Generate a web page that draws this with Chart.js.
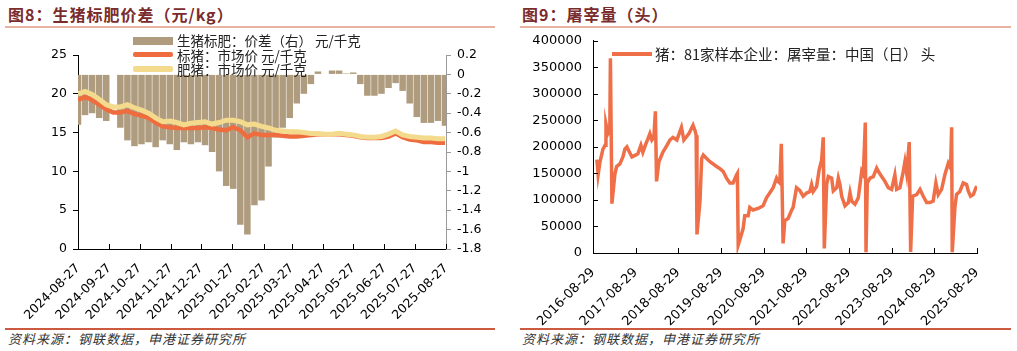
<!DOCTYPE html>
<html lang="zh">
<head>
<meta charset="UTF-8">
<title>生猪标肥价差 / 屠宰量</title>
<script src="https://cdn.jsdelivr.net/npm/chart.js"></script>
<style>
    body {
        margin: 0;
        width: 1017px;
        height: 351px;
        position: relative;
        background: #fff;
        overflow: hidden;
        font-family: "Noto Sans CJK SC", sans-serif;
    }
    .title {
        position: absolute;
        top: 4px;
        font-size: 16px;
        line-height: 20px;
        font-weight: bold;
        letter-spacing: 1px;
        color: #7a2c2c;
        white-space: nowrap;
    }
    .rule-top {
        position: absolute;
        top: 26px;
        height: 2px;
        background: #e8b3a0;
    }
    .rule-bottom {
        position: absolute;
        top: 328px;
        height: 2px;
        background: #cc5a40;
    }
    .source {
        position: absolute;
        top: 331px;
        font-size: 13px;
        line-height: 16px;
        font-style: italic;
        letter-spacing: 1px;
        color: #333;
        white-space: nowrap;
    }
    .box {
        position: absolute;
        top: 30px;
        height: 298px;
    }
    .leg {
        position: absolute;
        font-size: 13.5px;
        line-height: 16px;
        color: #222;
        white-space: pre;
    }
    .sw {
        position: absolute;
    }
</style>
</head>
<body>

<!-- 图8 -->
<div class="title" style="left:8px">图8：生猪标肥价差（元/kg）</div>
<div class="rule-top" style="left:5px;width:490px"></div>
<div class="box" style="left:0;width:500px"><canvas id="spreadChart"></canvas></div>
<div class="sw" style="left:133px;top:37px;width:40px;height:8px;background:#af9b7d"></div>
<div class="leg" style="left:177px;top:32px">生猪标肥：价差（右） 元/千克</div>
<div class="sw" style="left:133px;top:52px;width:40px;height:5px;background:#ef6c3e;border-radius:2px"></div>
<div class="leg" style="left:177px;top:47px">标猪：市场价 元/千克</div>
<div class="sw" style="left:133px;top:66px;width:40px;height:6px;background:#f3da8c;border-radius:2px"></div>
<div class="leg" style="left:177px;top:61px">肥猪：市场价 元/千克</div>
<div class="rule-bottom" style="left:5px;width:490px"></div>
<div class="source" style="left:8px">资料来源：钢联数据，申港证券研究所</div>

<!-- 图9 -->
<div class="title" style="left:522px">图9：屠宰量（头）</div>
<div class="rule-top" style="left:520px;width:491px"></div>
<div class="box" style="left:510px;width:507px"><canvas id="slaughterChart"></canvas></div>
<div class="sw" style="left:612px;top:52px;width:40px;height:4px;background:#ee6f48"></div>
<div class="leg" style="left:655px;top:46px;font-size:14.5px">猪：81家样本企业：屠宰量：中国（日） 头</div>
<div class="rule-bottom" style="left:520px;width:491px"></div>
<div class="source" style="left:522px">资料来源：钢联数据，申港证券研究所</div>

<script>
// ---- 图8 data: weekly samples from 2024-08-27 ----
const spreadStart = '2024-08-27';
const spreadTickLabels = ['2024-08-27', '2024-09-27', '2024-10-27', '2024-11-27', '2024-12-27',
    '2025-01-27', '2025-02-27', '2025-03-27', '2025-04-27', '2025-05-27', '2025-06-27',
    '2025-07-27', '2025-08-27'];
// 标猪 market price, 元/千克
const stdPrice = [19.2, 19.6, 19.2, 18.6, 18.0, 17.6, 17.6, 17.8, 17.4, 17.2, 16.9, 16.3, 15.8,
    15.7, 15.6, 15.6, 15.6, 15.6, 15.7, 15.6, 15.4, 15.3, 15.7, 15.3, 14.4, 14.9, 14.7, 14.7,
    14.7, 14.6, 14.5, 14.5, 14.6, 14.7, 14.8, 14.8, 14.8, 14.8, 14.7, 14.6, 14.4, 14.3, 14.3,
    14.3, 14.5, 14.9, 14.4, 14.1, 14.0, 13.8, 13.8, 13.7, 13.7];
// 肥猪 market price, 元/千克
const fatPrice = [20.0, 20.3, 19.9, 19.3, 18.6, 18.3, 18.3, 18.6, 18.2, 17.9, 17.5, 16.9, 16.4,
    16.5, 16.3, 16.0, 16.2, 16.3, 16.4, 16.1, 16.3, 16.6, 16.6, 16.4, 16.0, 16.1, 15.8, 15.6,
    15.3, 15.2, 15.1, 15.1, 15.0, 14.9, 14.9, 14.8, 14.8, 14.9, 14.8, 14.7, 14.5, 14.4, 14.4,
    14.5, 14.8, 15.2, 14.7, 14.5, 14.4, 14.3, 14.3, 14.2, 14.2];
// 价差 (right axis)
const spreadValues = [-0.52, -0.42, -0.4, -0.45, -0.48, null, -0.55, -0.68, -0.74, -0.72, -0.7,
    -0.75, -0.68, -0.72, -0.78, -0.7, -0.72, -0.7, -0.73, -0.8, -1.0, -1.15, -1.18, -1.55, -1.65,
    -1.35, -1.3, -0.95, -0.65, -0.55, -0.45, -0.3, -0.2, -0.1, 0.03, 0, 0.04, 0.04, 0.01, 0.02,
    -0.1, -0.22, -0.22, -0.2, -0.14, -0.09, -0.17, -0.3, -0.44, -0.5, -0.5, -0.48, -0.53];

// ---- 图9 data ----
const slaughterStart = '2016-08-29';
const slaughterTickLabels = ['2016-08-29', '2017-08-29', '2018-08-29', '2019-08-29', '2020-08-29',
    '2021-08-29', '2022-08-29', '2023-08-29', '2024-08-29', '2025-08-29'];
const slaughterDates = ['2016-10-01', '2016-10-08', '2016-10-12', '2016-10-28', '2016-11-22',
    '2016-12-10', '2016-12-18', '2017-01-04', '2017-01-20', '2017-01-25', '2017-02-07',
    '2017-03-04', '2017-03-19', '2017-04-16', '2017-05-12', '2017-05-29', '2017-06-15',
    '2017-06-28', '2017-07-28', '2017-08-23', '2017-09-17', '2017-10-13', '2017-10-30',
    '2017-11-25', '2017-12-12', '2017-12-29', '2018-01-15', '2018-02-01', '2018-02-14',
    '2018-02-24', '2018-03-16', '2018-04-19', '2018-05-24', '2018-06-18', '2018-07-14',
    '2018-08-17', '2018-09-25', '2018-10-16', '2018-11-28', '2019-01-02', '2019-01-19',
    '2019-01-29', '2019-02-05', '2019-03-03', '2019-03-17', '2019-03-31', '2019-04-29',
    '2019-05-27', '2019-07-23', '2019-08-20', '2019-09-17', '2019-10-16', '2019-11-13',
    '2019-12-11', '2020-01-09', '2020-01-17', '2020-01-24', '2020-02-06', '2020-03-06',
    '2020-03-20', '2020-04-18', '2020-05-02', '2020-05-30', '2020-07-12', '2020-08-24',
    '2020-09-22', '2020-10-21', '2020-11-18', '2020-12-17', '2020-12-31', '2021-01-14',
    '2021-01-27', '2021-02-11', '2021-02-26', '2021-03-26', '2021-04-24', '2021-05-08',
    '2021-06-06', '2021-07-04', '2021-08-02', '2021-08-31', '2021-09-28', '2021-10-13',
    '2021-10-27', '2021-11-25', '2021-12-17', '2022-01-07', '2022-01-21', '2022-01-30',
    '2022-02-19', '2022-03-05', '2022-04-03', '2022-04-17', '2022-05-16', '2022-05-30',
    '2022-06-13', '2022-06-28', '2022-07-26', '2022-08-24', '2022-09-07', '2022-09-21',
    '2022-10-20', '2022-11-17', '2022-12-16', '2022-12-30', '2023-01-16', '2023-01-22',
    '2023-02-02', '2023-02-25', '2023-03-25', '2023-04-23', '2023-05-07', '2023-06-05',
    '2023-07-03', '2023-08-01', '2023-08-29', '2023-09-26', '2023-10-11', '2023-11-08',
    '2023-12-07', '2023-12-21', '2024-01-05', '2024-01-27', '2024-02-08', '2024-02-25',
    '2024-03-31', '2024-04-28', '2024-05-26', '2024-06-24', '2024-07-22', '2024-08-19',
    '2024-09-11', '2024-10-01', '2024-10-30', '2024-11-27', '2024-12-26', '2025-01-15',
    '2025-01-24', '2025-01-29', '2025-02-21', '2025-03-07', '2025-04-04', '2025-05-03',
    '2025-06-01', '2025-06-15', '2025-07-05', '2025-07-28', '2025-08-20', '2025-08-29'];
const slaughterValues = [176000, 160000, 148000, 172000, 196000,
    203000, 243000, 225000, 232000, 367000, 93000,
    148000, 163000, 168000, 181000, 196000, 200000,
    194000, 181000, 184000, 187000, 203000, 190000,
    206000, 215000, 225000, 213000, 218000, 267000,
    135000, 172000, 190000, 203000, 213000, 218000,
    213000, 237000, 213000, 225000, 241000, 231000,
    222000, 35000, 98000, 178000, 184500, 178000,
    172000, 163000, 159000, 154000, 141000, 132000,
    132000, 147000, 150000, 14800, 24000, 46000,
    70000, 70000, 86000, 81000, 84000, 89000,
    104000, 113500, 123000, 141000, 135000, 132000,
    206000, 18000, 61000, 65000, 80000, 86000,
    123000, 118000, 107000, 113000, 116000, 129000,
    116000, 125000, 157000, 175000, 218000, 8700,
    129000, 144000, 141000, 117000, 123000, 141000,
    129000, 107000, 89000, 95000, 113500, 98000,
    92000, 104000, 154000, 148000, 246000, 1500,
    132000, 141000, 144000, 160000, 154000, 144000,
    135000, 123000, 120000, 147500, 120000, 123000,
    154000, 172000, 150000, 209000, 2000, 107000,
    110000, 120000, 107000, 95000, 95000, 98000,
    132000, 110000, 120000, 147500, 169000, 160000,
    237000, 1500, 86000, 110500, 116000, 132000,
    129000, 117000, 107000, 110000, 123000, 126000];

const DAY = 86400000;
const daysFrom = (start, d) => Math.round((Date.parse(d) - Date.parse(start)) / DAY);

// small tick marks that point into the plot area
const innerTicks = {
    id: 'innerTicks',
    afterDraw(chart, args, opts) {
        const { ctx, chartArea } = chart;
        ctx.save();
        ctx.strokeStyle = '#000';
        ctx.lineWidth = 1;
        (opts.axes || []).forEach(id => {
            const s = chart.scales[id];
            s.ticks.forEach((t, i) => {
                const p = Math.round(s.getPixelForTick(i)) + 0.5;
                ctx.beginPath();
                if (s.isHorizontal()) {
                    ctx.moveTo(p, chartArea.bottom);
                    ctx.lineTo(p, chartArea.bottom - 5);
                } else {
                    ctx.moveTo(chartArea.left, p);
                    ctx.lineTo(chartArea.left + 5, p);
                }
                ctx.stroke();
            });
        });
        ctx.restore();
    }
};

const leftFont = { family: 'DejaVu Sans', size: 12.5 };
const rightFont = { family: 'DejaVu Sans', size: 13 };

// ---- 图8 ----
const spreadTicks = spreadTickLabels.map(d => daysFrom(spreadStart, d));
new Chart(document.getElementById('spreadChart'), {
    type: 'bar',
    data: {
        datasets: [
            {
                type: 'line',
                label: '肥猪：市场价 元/千克',
                data: fatPrice.map((v, i) => ({ x: i * 7, y: v })),
                yAxisID: 'yL',
                borderColor: '#f3da8c',
                borderWidth: 5,
                pointRadius: 0,
                order: 0
            },
            {
                type: 'line',
                label: '标猪：市场价 元/千克',
                data: stdPrice.map((v, i) => ({ x: i * 7, y: v })),
                yAxisID: 'yL',
                borderColor: '#ef6c3e',
                borderWidth: 4.5,
                pointRadius: 0,
                order: 1
            },
            {
                type: 'bar',
                label: '生猪标肥：价差（右） 元/千克',
                data: spreadValues.map((v, i) => ({ x: i * 7, y: v })),
                yAxisID: 'yR',
                backgroundColor: '#af9b7d',
                barPercentage: 0.92,
                categoryPercentage: 1,
                order: 2
            }
        ]
    },
    options: {
        responsive: true,
        maintainAspectRatio: false,
        animation: false,
        layout: { padding: { top: 25, left: 0, right: 0, bottom: 0 } },
        plugins: {
            legend: { display: false },
            tooltip: { enabled: false },
            innerTicks: { axes: ['x'] }
        },
        scales: {
            x: {
                type: 'linear',
                min: 0,
                max: spreadTicks[spreadTicks.length - 1],
                offset: false,
                grid: { display: false },
                border: { color: '#000' },
                afterBuildTicks: s => { s.ticks = spreadTicks.map(v => ({ value: v })); },
                afterFit: s => { s.height = 79; },
                ticks: {
                    font: leftFont,
                    color: '#000',
                    autoSkip: false,
                    minRotation: 45,
                    maxRotation: 45,
                    padding: 4,
                    callback: v => spreadTickLabels[spreadTicks.indexOf(v)]
                }
            },
            yL: {
                position: 'left',
                min: 0,
                max: 25,
                grid: { drawOnChartArea: false, tickLength: 5, color: '#000' },
                border: { color: '#000' },
                afterFit: s => { s.width = 78; },
                ticks: { stepSize: 5, font: leftFont, color: '#000', padding: 6 }
            },
            yR: {
                position: 'right',
                min: -1.8,
                max: 0.2,
                grid: { drawOnChartArea: false, tickLength: 5, color: '#9a9a9a' },
                border: { color: '#9a9a9a' },
                afterFit: s => { s.width = 54; },
                ticks: {
                    stepSize: 0.2,
                    font: leftFont,
                    color: '#000',
                    padding: 6,
                    callback: v => String(Math.round(v * 10) / 10)
                }
            }
        }
    },
    plugins: [innerTicks]
});

// ---- 图9 ----
const slaughterTicks = slaughterTickLabels.map(d => daysFrom(slaughterStart, d));
new Chart(document.getElementById('slaughterChart'), {
    type: 'line',
    data: {
        datasets: [{
            label: '猪：81家样本企业：屠宰量：中国（日） 头',
            data: slaughterValues.map((v, i) => ({ x: daysFrom(slaughterStart, slaughterDates[i]), y: v })),
            borderColor: '#ee6f48',
            borderWidth: 3.5,
            pointRadius: 0
        }]
    },
    options: {
        responsive: true,
        maintainAspectRatio: false,
        animation: false,
        layout: { padding: { top: 7, left: 0, right: 40, bottom: 0 } },
        plugins: {
            legend: { display: false },
            tooltip: { enabled: false },
            innerTicks: { axes: ['x', 'y'] }
        },
        scales: {
            x: {
                type: 'linear',
                min: 0,
                max: slaughterTicks[slaughterTicks.length - 1],
                grid: { display: false },
                border: { color: '#000' },
                afterBuildTicks: s => { s.ticks = slaughterTicks.map(v => ({ value: v })); },
                afterFit: s => { s.height = 75; },
                ticks: {
                    font: rightFont,
                    color: '#000',
                    autoSkip: false,
                    minRotation: 45,
                    maxRotation: 45,
                    padding: 4,
                    callback: v => slaughterTickLabels[slaughterTicks.indexOf(v)]
                }
            },
            y: {
                min: 0,
                max: 400000,
                grid: { display: false },
                border: { color: '#000' },
                afterFit: s => { s.width = 83; },
                ticks: {
                    stepSize: 50000,
                    font: rightFont,
                    color: '#000',
                    padding: 3,
                    callback: v => String(v)
                }
            }
        }
    },
    plugins: [innerTicks]
});
</script>
</body>
</html>
